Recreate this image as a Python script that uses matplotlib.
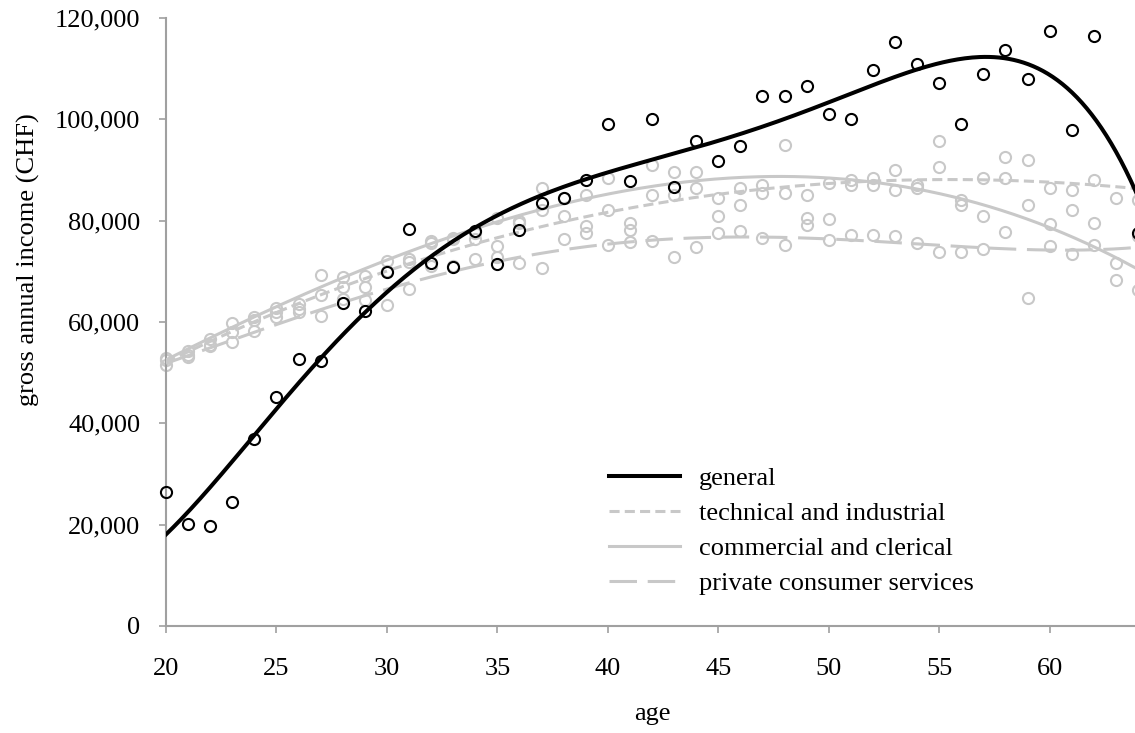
import numpy as np
import matplotlib
matplotlib.use('Agg')
import matplotlib.pyplot as plt
from matplotlib.ticker import FuncFormatter

# Ages 20..64
ages = np.arange(20, 65)

# gross annual income in thousand CHF
general = [26.4, 20.1, 19.7, 24.5, 36.9, 45.1, 52.6, 52.3, 63.8, 62.2,
           69.9, 78.3, 71.7, 70.8, 78.0, 71.5, 78.1, 83.5, 84.5, 88.0,
           99.0, 87.8, 100.0, 86.6, 95.8, 91.8, 94.7, 104.5, 104.5, 106.5,
           101.0, 100.0, 109.8, 115.3, 111.0, 107.2, 99.0, 109.0, 113.6, 108.0,
           117.5, 97.8, 116.5, np.nan, 77.5]
technical = [52.5, 53.5, 55.5, 58.0, 60.4, 62.0, 62.5, 65.3, 67.0, 67.0,
             70.0, 71.9, 75.6, 76.3, 76.3, 75.0, 79.5, 82.0, 81.0, 79.0,
             82.0, 78.2, 85.0, 85.0, 86.5, 81.0, 83.0, 85.5, 85.5, 80.5,
             87.5, 88.0, 88.5, 90.0, 87.0, 95.8, 84.0, 88.5, 92.5, 92.0,
             86.5, 86.0, 88.0, 84.5, 84.0]
commercial = [52.8, 54.2, 56.6, 59.8, 61.0, 62.7, 63.5, 69.3, 68.8, 69.0,
              72.0, 72.5, 76.0, 76.5, 77.5, 80.5, 80.0, 86.5, 84.5, 85.0,
              88.5, 79.5, 91.0, 89.5, 89.5, 84.5, 86.5, 87.0, 95.0, 85.0,
              80.3, 87.0, 87.0, 86.0, 86.5, 90.5, 83.0, 81.0, 88.5, 83.0,
              74.9, 82.0, 75.2, 71.6, 66.3]
private = [51.5, 53.0, 55.3, 56.1, 58.3, 61.0, 62.0, 61.2, 64.5, 64.4,
           63.4, 66.5, 71.0, 71.0, 72.4, 72.9, 71.7, 70.6, 76.3, 77.5,
           75.2, 75.7, 75.9, 72.8, 74.8, 77.5, 77.9, 76.5, 75.2, 79.2,
           76.1, 77.2, 77.2, 77.0, 75.6, 73.8, 73.9, 74.4, 77.7, 64.7,
           79.3, 73.5, 79.6, 68.3, 77.0]

labels = ['general', 'technical and industrial', 'commercial and clerical',
          'private consumer services']

GRAY = '#c8c8c8'
AXC = '#a0a0a0'

plt.rcParams['font.family'] = ['Liberation Serif', 'DejaVu Serif']
plt.rcParams['font.size'] = 19

fig = plt.figure(figsize=(11.35, 7.33), dpi=100)
ax = fig.add_axes([0.1463, 0.146, 0.8563, 0.8295])

xs = np.linspace(20, 64, 400)


def trend(vals, order):
    # polynomial trend line through the points
    y = np.array(vals, dtype=float) * 1000
    ok = ~np.isnan(y)
    c = np.polyfit(ages[ok], y[ok], order)
    return np.polyval(c, xs)


# values, colour, line style, width, z, trend order
series = [
    (general, 'black', '-', 2.9, 4, 5),
    (technical, GRAY, (0, (3.3, 1.7)), 2.2, 2, 3),
    (commercial, GRAY, '-', 2.2, 2, 3),
    (private, GRAY, (0, (9, 3.5)), 2.2, 2, 4),
]

handles = []
for (vals, col, ls, lw, z, order), lab in zip(series, labels):
    ax.plot(ages, np.array(vals) * 1000, 'o', mfc='none', mec=col, ms=8,
            mew=1.5, zorder=z, clip_on=False)
    h, = ax.plot(xs, trend(vals, order), color=col, linestyle=ls, lw=lw,
                 zorder=z + 1, label=lab)
    handles.append(h)

ax.set_xlim(20, 64)
ax.set_ylim(0, 120000)
ax.set_xticks(range(20, 65, 5))
ax.set_yticks(range(0, 120001, 20000))
ax.yaxis.set_major_formatter(FuncFormatter(lambda v, p: f'{v:,.0f}'))

for s in ['top', 'right']:
    ax.spines[s].set_visible(False)
for s in ['left', 'bottom']:
    ax.spines[s].set_color(AXC)
    ax.spines[s].set_linewidth(1.5)
ax.tick_params(axis='both', direction='out', length=5, width=1.2, color=AXC)
ax.tick_params(axis='y', pad=13.5)
ax.tick_params(axis='x', pad=18)

ax.set_xlabel('age')
ax.set_ylabel('gross annual income (CHF)')
ax.xaxis.set_label_coords(0.5, -0.127)
ax.yaxis.set_label_coords(-0.13, 0.602)

ax.legend(handles=handles, loc='upper left', bbox_to_anchor=(0.5366, 0.3629),
          bbox_transform=fig.transFigure, frameon=False, borderpad=0,
          borderaxespad=0, handlelength=2.7, handletextpad=0.72,
          labelspacing=0.43)

fig.savefig('out.png', dpi=100)
